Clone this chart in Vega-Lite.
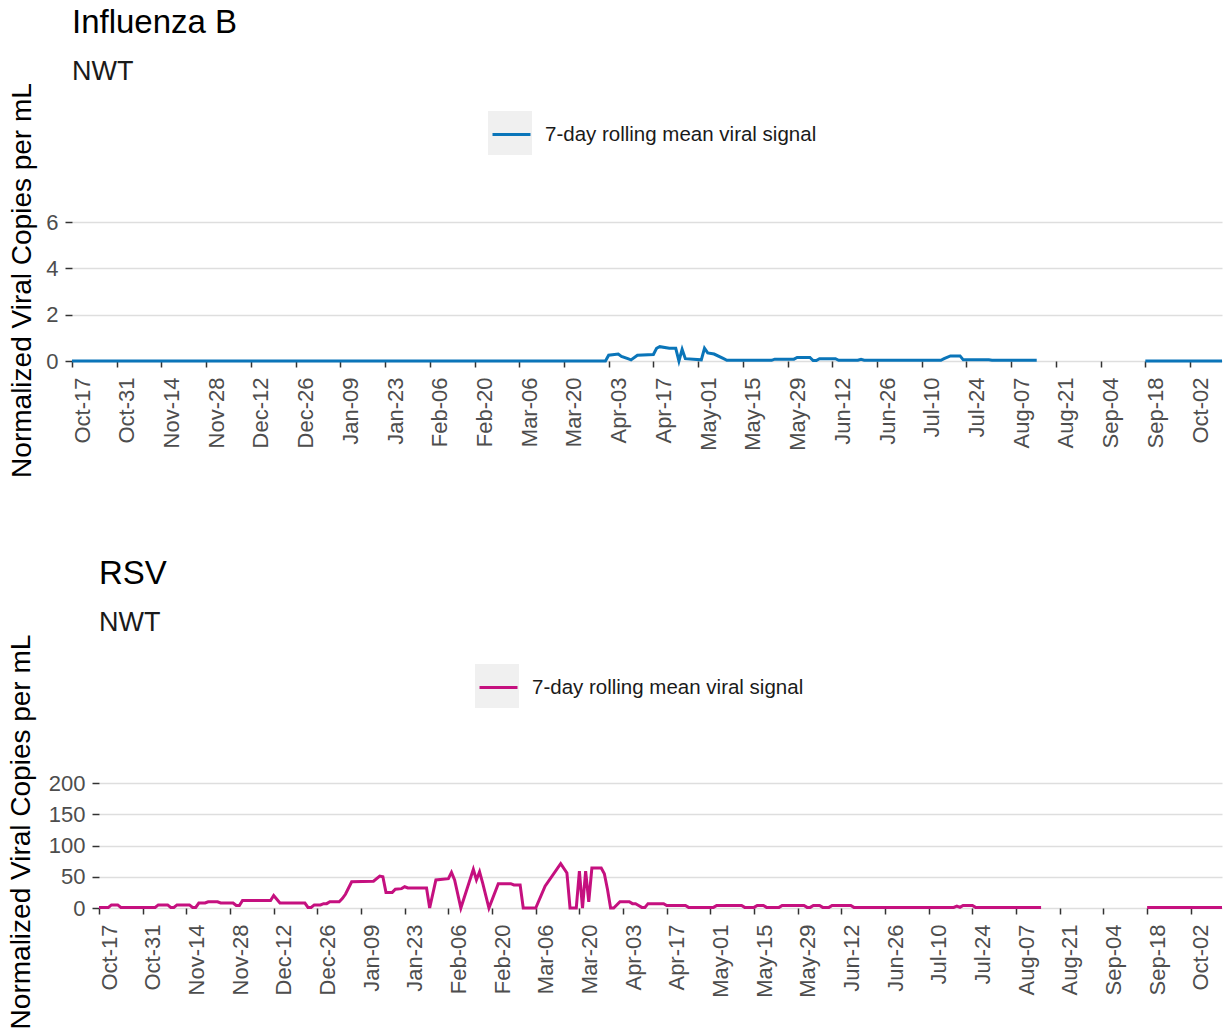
{
  "$schema": "https://vega.github.io/schema/vega-lite/v6.json",
  "background": "white",
  "padding": {"left": 7, "top": 6, "right": 3, "bottom": 5},
  "columns": 1,
  "align": "none",
  "spacing": 80,
  "resolve": {
    "scale": {"x": "independent", "y": "independent", "color": "independent", "fill": "independent"},
    "axis": {"x": "independent", "y": "independent"},
    "legend": {"color": "independent", "fill": "independent"}
  },
  "datasets": {
    "fluB": [
      {"date": "2022-10-17", "value": 0},
      {"date": "2023-04-02", "value": 0},
      {"date": "2023-04-03", "value": 0.25},
      {"date": "2023-04-06", "value": 0.3},
      {"date": "2023-04-07", "value": 0.2},
      {"date": "2023-04-09", "value": 0.1},
      {"date": "2023-04-10", "value": 0.05},
      {"date": "2023-04-12", "value": 0.25},
      {"date": "2023-04-17", "value": 0.28},
      {"date": "2023-04-18", "value": 0.55},
      {"date": "2023-04-19", "value": 0.62},
      {"date": "2023-04-22", "value": 0.55},
      {"date": "2023-04-24", "value": 0.55},
      {"date": "2023-04-25", "value": 0},
      {"date": "2023-04-26", "value": 0.5},
      {"date": "2023-04-27", "value": 0.1},
      {"date": "2023-05-02", "value": 0.05},
      {"date": "2023-05-03", "value": 0.55},
      {"date": "2023-05-04", "value": 0.35},
      {"date": "2023-05-06", "value": 0.3},
      {"date": "2023-05-09", "value": 0.1},
      {"date": "2023-05-10", "value": 0.03},
      {"date": "2023-05-24", "value": 0.03},
      {"date": "2023-05-25", "value": 0.08},
      {"date": "2023-05-31", "value": 0.08},
      {"date": "2023-06-01", "value": 0.15},
      {"date": "2023-06-05", "value": 0.15},
      {"date": "2023-06-06", "value": 0.02},
      {"date": "2023-06-07", "value": 0.02},
      {"date": "2023-06-08", "value": 0.1},
      {"date": "2023-06-13", "value": 0.1},
      {"date": "2023-06-14", "value": 0.03},
      {"date": "2023-06-20", "value": 0.03},
      {"date": "2023-06-21", "value": 0.07},
      {"date": "2023-06-22", "value": 0.03},
      {"date": "2023-07-16", "value": 0.03},
      {"date": "2023-07-17", "value": 0.1},
      {"date": "2023-07-19", "value": 0.22},
      {"date": "2023-07-22", "value": 0.22},
      {"date": "2023-07-23", "value": 0.05},
      {"date": "2023-07-31", "value": 0.05},
      {"date": "2023-08-01", "value": 0.03},
      {"date": "2023-08-15", "value": 0.03},
      {"date": "2023-08-16", "value": null},
      {"date": "2023-09-18", "value": 0},
      {"date": "2023-10-12", "value": 0}
    ],
    "rsv": [
      {"date": "2022-10-17", "value": 1},
      {"date": "2022-10-20", "value": 1},
      {"date": "2022-10-21", "value": 5},
      {"date": "2022-10-23", "value": 5},
      {"date": "2022-10-24", "value": 1},
      {"date": "2022-11-04", "value": 1},
      {"date": "2022-11-05", "value": 5},
      {"date": "2022-11-08", "value": 5},
      {"date": "2022-11-09", "value": 1},
      {"date": "2022-11-10", "value": 1},
      {"date": "2022-11-11", "value": 5},
      {"date": "2022-11-15", "value": 5},
      {"date": "2022-11-16", "value": 1},
      {"date": "2022-11-17", "value": 1},
      {"date": "2022-11-18", "value": 8},
      {"date": "2022-11-20", "value": 8},
      {"date": "2022-11-21", "value": 10},
      {"date": "2022-11-24", "value": 10},
      {"date": "2022-11-25", "value": 8},
      {"date": "2022-11-29", "value": 8},
      {"date": "2022-11-30", "value": 4},
      {"date": "2022-12-01", "value": 4},
      {"date": "2022-12-02", "value": 12},
      {"date": "2022-12-11", "value": 12},
      {"date": "2022-12-12", "value": 20},
      {"date": "2022-12-13", "value": 14},
      {"date": "2022-12-14", "value": 8},
      {"date": "2022-12-22", "value": 8},
      {"date": "2022-12-23", "value": 1},
      {"date": "2022-12-24", "value": 1},
      {"date": "2022-12-25", "value": 5},
      {"date": "2022-12-27", "value": 5},
      {"date": "2022-12-28", "value": 7},
      {"date": "2022-12-29", "value": 7},
      {"date": "2022-12-30", "value": 10},
      {"date": "2023-01-02", "value": 10},
      {"date": "2023-01-03", "value": 15},
      {"date": "2023-01-04", "value": 22},
      {"date": "2023-01-06", "value": 42},
      {"date": "2023-01-13", "value": 43},
      {"date": "2023-01-15", "value": 51},
      {"date": "2023-01-16", "value": 50},
      {"date": "2023-01-17", "value": 25},
      {"date": "2023-01-19", "value": 25},
      {"date": "2023-01-20", "value": 30},
      {"date": "2023-01-22", "value": 31},
      {"date": "2023-01-23", "value": 34},
      {"date": "2023-01-24", "value": 32},
      {"date": "2023-01-30", "value": 32},
      {"date": "2023-01-31", "value": 0},
      {"date": "2023-02-02", "value": 45},
      {"date": "2023-02-06", "value": 47},
      {"date": "2023-02-07", "value": 57},
      {"date": "2023-02-08", "value": 45},
      {"date": "2023-02-10", "value": 0},
      {"date": "2023-02-14", "value": 62},
      {"date": "2023-02-15", "value": 45},
      {"date": "2023-02-16", "value": 58},
      {"date": "2023-02-17", "value": 40},
      {"date": "2023-02-19", "value": 0},
      {"date": "2023-02-22", "value": 39},
      {"date": "2023-02-26", "value": 39},
      {"date": "2023-02-27", "value": 37},
      {"date": "2023-03-01", "value": 37},
      {"date": "2023-03-02", "value": 0},
      {"date": "2023-03-06", "value": 0},
      {"date": "2023-03-09", "value": 35},
      {"date": "2023-03-14", "value": 71},
      {"date": "2023-03-16", "value": 56},
      {"date": "2023-03-17", "value": 0},
      {"date": "2023-03-19", "value": 0},
      {"date": "2023-03-20", "value": 59},
      {"date": "2023-03-21", "value": 0},
      {"date": "2023-03-22", "value": 59},
      {"date": "2023-03-23", "value": 10},
      {"date": "2023-03-24", "value": 64},
      {"date": "2023-03-27", "value": 64},
      {"date": "2023-03-28", "value": 55},
      {"date": "2023-03-29", "value": 30},
      {"date": "2023-03-30", "value": 0},
      {"date": "2023-03-31", "value": 0},
      {"date": "2023-04-02", "value": 10},
      {"date": "2023-04-05", "value": 10},
      {"date": "2023-04-06", "value": 7},
      {"date": "2023-04-07", "value": 7},
      {"date": "2023-04-08", "value": 4},
      {"date": "2023-04-09", "value": 1},
      {"date": "2023-04-10", "value": 1},
      {"date": "2023-04-11", "value": 7},
      {"date": "2023-04-16", "value": 7},
      {"date": "2023-04-17", "value": 4},
      {"date": "2023-04-23", "value": 4},
      {"date": "2023-04-24", "value": 1},
      {"date": "2023-05-02", "value": 1},
      {"date": "2023-05-03", "value": 4},
      {"date": "2023-05-11", "value": 4},
      {"date": "2023-05-12", "value": 1},
      {"date": "2023-05-15", "value": 1},
      {"date": "2023-05-16", "value": 4},
      {"date": "2023-05-18", "value": 4},
      {"date": "2023-05-19", "value": 1},
      {"date": "2023-05-23", "value": 1},
      {"date": "2023-05-24", "value": 4},
      {"date": "2023-05-31", "value": 4},
      {"date": "2023-06-01", "value": 1},
      {"date": "2023-06-02", "value": 1},
      {"date": "2023-06-03", "value": 4},
      {"date": "2023-06-05", "value": 4},
      {"date": "2023-06-06", "value": 1},
      {"date": "2023-06-08", "value": 1},
      {"date": "2023-06-09", "value": 4},
      {"date": "2023-06-15", "value": 4},
      {"date": "2023-06-16", "value": 1},
      {"date": "2023-07-18", "value": 1},
      {"date": "2023-07-19", "value": 3},
      {"date": "2023-07-20", "value": 1},
      {"date": "2023-07-21", "value": 4},
      {"date": "2023-07-24", "value": 4},
      {"date": "2023-07-25", "value": 1},
      {"date": "2023-08-15", "value": 1},
      {"date": "2023-08-16", "value": null},
      {"date": "2023-09-18", "value": 1},
      {"date": "2023-10-12", "value": 1}
    ]
  },
  "concat": [
    {
      "width": 1150,
      "height": 162,
      "title": {"text": "Influenza B", "subtitle": "NWT"},
      "layer": [
        {
          "data": {"name": "fluB"},
          "mark": {"type": "line", "strokeWidth": 3, "color": "#0A75B9", "invalid": "break-paths-show-domains"},
          "encoding": {
            "x": {
              "field": "date", "type": "temporal",
              "scale": {"type": "utc", "domain": [{"year": 2022, "month": 10, "date": 17, "utc": true}, {"year": 2023, "month": 10, "date": 12, "utc": true}]},
              "axis": {
                "title": null, "format": "%b-%d",
                "values": [
                  {"year": 2022, "month": 10, "date": 17, "utc": true},
                  {"year": 2022, "month": 10, "date": 31, "utc": true},
                  {"year": 2022, "month": 11, "date": 14, "utc": true},
                  {"year": 2022, "month": 11, "date": 28, "utc": true},
                  {"year": 2022, "month": 12, "date": 12, "utc": true},
                  {"year": 2022, "month": 12, "date": 26, "utc": true},
                  {"year": 2023, "month": 1, "date": 9, "utc": true},
                  {"year": 2023, "month": 1, "date": 23, "utc": true},
                  {"year": 2023, "month": 2, "date": 6, "utc": true},
                  {"year": 2023, "month": 2, "date": 20, "utc": true},
                  {"year": 2023, "month": 3, "date": 6, "utc": true},
                  {"year": 2023, "month": 3, "date": 20, "utc": true},
                  {"year": 2023, "month": 4, "date": 3, "utc": true},
                  {"year": 2023, "month": 4, "date": 17, "utc": true},
                  {"year": 2023, "month": 5, "date": 1, "utc": true},
                  {"year": 2023, "month": 5, "date": 15, "utc": true},
                  {"year": 2023, "month": 5, "date": 29, "utc": true},
                  {"year": 2023, "month": 6, "date": 12, "utc": true},
                  {"year": 2023, "month": 6, "date": 26, "utc": true},
                  {"year": 2023, "month": 7, "date": 10, "utc": true},
                  {"year": 2023, "month": 7, "date": 24, "utc": true},
                  {"year": 2023, "month": 8, "date": 7, "utc": true},
                  {"year": 2023, "month": 8, "date": 21, "utc": true},
                  {"year": 2023, "month": 9, "date": 4, "utc": true},
                  {"year": 2023, "month": 9, "date": 18, "utc": true},
                  {"year": 2023, "month": 10, "date": 2, "utc": true}
                ]
              }
            },
            "y": {
              "field": "value", "type": "quantitative",
              "scale": {"domain": [0, 7], "nice": false, "zero": true},
              "axis": {"values": [0, 2, 4, 6], "tickCount": 20, "format": "d", "title": "Normalized Viral Copies per mL", "titlePadding": 9}
            },
            "color": {
              "datum": "7-day rolling mean viral signal",
              "scale": {"range": ["#0A75B9"]},
              "legend": {"orient": "none", "legendX": 419, "legendY": -85, "title": null, "symbolType": "stroke", "symbolSize": 1444, "symbolStrokeWidth": 3, "labelFontSize": 20.5, "labelColor": "#1A1A1A", "labelOffset": 13, "labelLimit": 600, "zindex": 2}
            }
          }
        },
        {
          "data": {"values": [{}]},
          "mark": {"type": "square", "clip": true, "opacity": 1},
          "encoding": {
            "y": {"datum": -100, "type": "quantitative"},
            "fill": {
              "datum": "keybox",
              "scale": {"range": ["#F0F0F0"]},
              "legend": {"orient": "none", "legendX": 416, "legendY": -88, "title": null, "symbolType": "square", "symbolSize": 1936, "symbolStrokeWidth": 0, "labelExpr": "''", "labelOffset": 0, "zindex": 1}
            }
          }
        }
      ]
    },
    {
      "hconcat": [
        {
          "width": 1,
          "height": 1,
          "data": {"values": []},
          "mark": {"type": "rect"},
          "encoding": {}
        },
        {
          "width": 1123,
          "height": 153,
          "title": {"text": "RSV", "subtitle": "NWT"},
          "layer": [
            {
              "data": {"name": "rsv"},
              "mark": {"type": "line", "strokeWidth": 3, "color": "#C5107F", "invalid": "break-paths-show-domains"},
              "encoding": {
                "x": {
                  "field": "date", "type": "temporal",
                  "scale": {"type": "utc", "domain": [{"year": 2022, "month": 10, "date": 17, "utc": true}, {"year": 2023, "month": 10, "date": 12, "utc": true}]},
                  "axis": {
                    "title": null, "format": "%b-%d",
                    "values": [
                      {"year": 2022, "month": 10, "date": 17, "utc": true},
                      {"year": 2022, "month": 10, "date": 31, "utc": true},
                      {"year": 2022, "month": 11, "date": 14, "utc": true},
                      {"year": 2022, "month": 11, "date": 28, "utc": true},
                      {"year": 2022, "month": 12, "date": 12, "utc": true},
                      {"year": 2022, "month": 12, "date": 26, "utc": true},
                      {"year": 2023, "month": 1, "date": 9, "utc": true},
                      {"year": 2023, "month": 1, "date": 23, "utc": true},
                      {"year": 2023, "month": 2, "date": 6, "utc": true},
                      {"year": 2023, "month": 2, "date": 20, "utc": true},
                      {"year": 2023, "month": 3, "date": 6, "utc": true},
                      {"year": 2023, "month": 3, "date": 20, "utc": true},
                      {"year": 2023, "month": 4, "date": 3, "utc": true},
                      {"year": 2023, "month": 4, "date": 17, "utc": true},
                      {"year": 2023, "month": 5, "date": 1, "utc": true},
                      {"year": 2023, "month": 5, "date": 15, "utc": true},
                      {"year": 2023, "month": 5, "date": 29, "utc": true},
                      {"year": 2023, "month": 6, "date": 12, "utc": true},
                      {"year": 2023, "month": 6, "date": 26, "utc": true},
                      {"year": 2023, "month": 7, "date": 10, "utc": true},
                      {"year": 2023, "month": 7, "date": 24, "utc": true},
                      {"year": 2023, "month": 8, "date": 7, "utc": true},
                      {"year": 2023, "month": 8, "date": 21, "utc": true},
                      {"year": 2023, "month": 9, "date": 4, "utc": true},
                      {"year": 2023, "month": 9, "date": 18, "utc": true},
                      {"year": 2023, "month": 10, "date": 2, "utc": true}
                    ]
                  }
                },
                "y": {
                  "field": "value", "type": "quantitative",
                  "scale": {"domain": [0, 245], "nice": false},
                  "axis": {"values": [0, 50, 100, 150, 200], "tickCount": 20, "format": "d", "title": "Normalized Viral Copies per mL", "titlePadding": 13}
                },
                "color": {
                  "datum": "7-day rolling mean viral signal",
                  "scale": {"range": ["#C5107F"]},
                  "legend": {"orient": "none", "legendX": 406, "legendY": -88, "title": null, "symbolType": "stroke", "symbolSize": 1444, "symbolStrokeWidth": 3, "labelFontSize": 20.5, "labelColor": "#1A1A1A", "labelOffset": 13, "labelLimit": 600, "zindex": 2}
                }
              }
            },
            {
              "data": {"values": [{}]},
              "mark": {"type": "square", "clip": true, "opacity": 1},
              "encoding": {
                "y": {"datum": -1000, "type": "quantitative"},
                "fill": {
                  "datum": "keybox",
                  "scale": {"range": ["#F0F0F0"]},
                  "legend": {"orient": "none", "legendX": 403, "legendY": -91, "title": null, "symbolType": "square", "symbolSize": 1936, "symbolStrokeWidth": 0, "labelExpr": "''", "labelOffset": 0, "zindex": 1}
                }
              }
            }
          ]
        }
      ],
      "spacing": 26,
      "bounds": "flush"
    }
  ],
  "config": {
    "font": "Liberation Sans",
    "view": {"stroke": null},
    "axis": {"labelFont": "Liberation Sans", "titleFont": "Liberation Sans", "labelColor": "#4D4D4D", "tickColor": "#333333", "domain": false, "labelFontSize": 22, "titleFontWeight": "normal", "titleFontSize": 28, "titleColor": "#000000"},
    "axisY": {"grid": true, "gridColor": "#DEDEDE", "gridWidth": 1.5, "tickSize": 7, "tickWidth": 1.5, "labelPadding": 7},
    "axisX": {"grid": false, "tickSize": 6, "tickWidth": 1.5, "labelAngle": 270, "labelPadding": 10, "labelBaseline": "top"},
    "legend": {"padding": 0, "labelFont": "Liberation Sans"},
    "title": {"anchor": "start", "frame": "group", "fontSize": 33, "fontWeight": "normal", "subtitleFontSize": 27, "color": "#000000", "subtitleColor": "#1A1A1A", "offset": -2, "subtitlePadding": 19, "font": "Liberation Sans", "subtitleFont": "Liberation Sans"}
  }
}
